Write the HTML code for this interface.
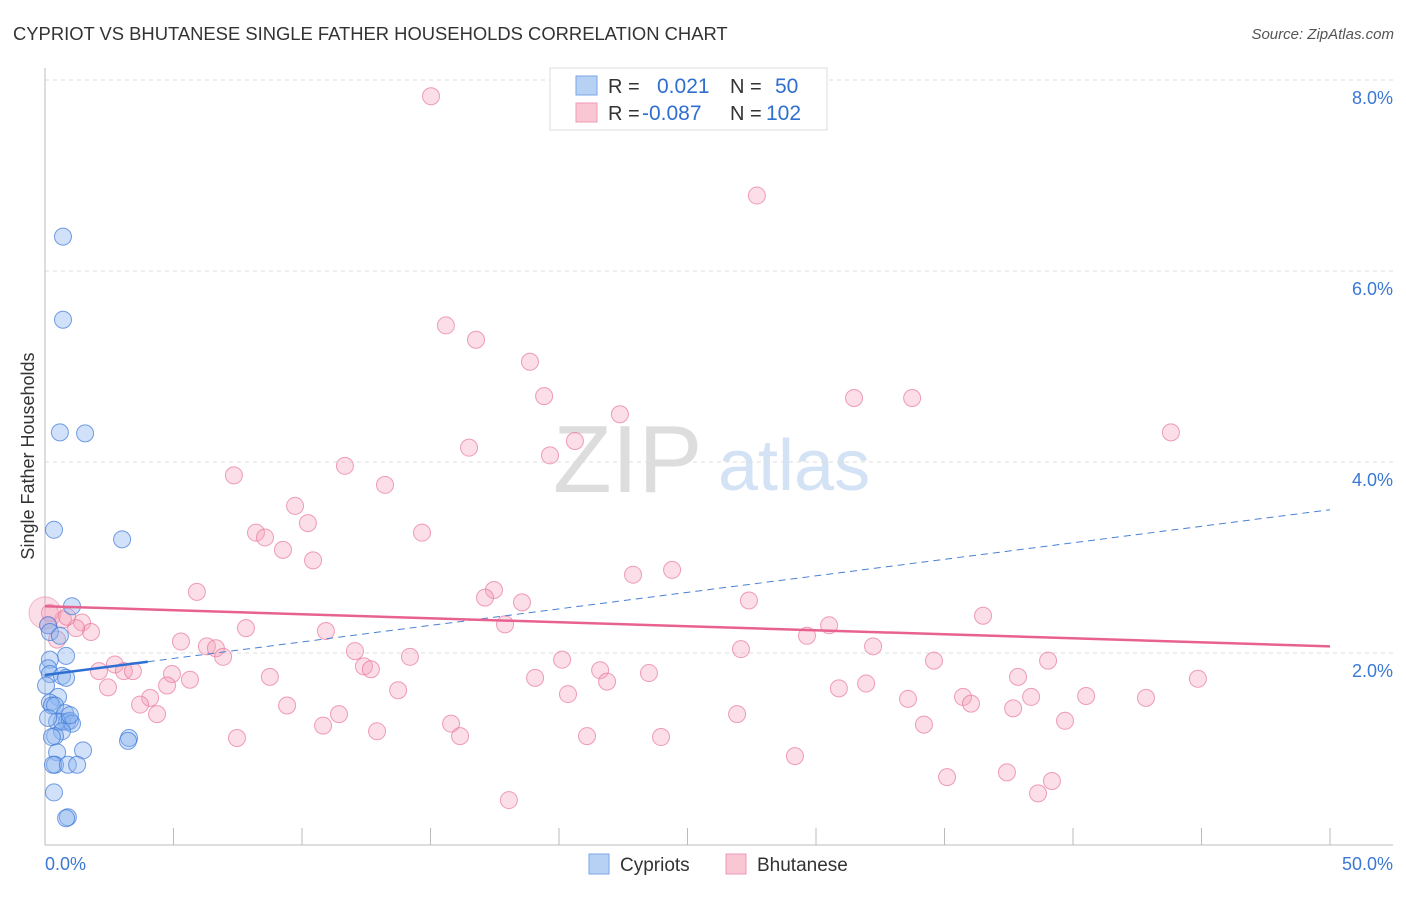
<!DOCTYPE html>
<html><head><meta charset="utf-8"><style>
body{margin:0;background:#fff;font-family:"Liberation Sans",sans-serif;}
svg text{font-family:"Liberation Sans",sans-serif;}
</style></head><body>
<svg id="chart" width="1406" height="892" viewBox="0 0 1406 892" xmlns="http://www.w3.org/2000/svg">
<text x="13" y="40" font-size="18.4" fill="#333">CYPRIOT VS BHUTANESE SINGLE FATHER HOUSEHOLDS CORRELATION CHART</text>
<text x="1394" y="39" font-size="15" fill="#555" font-style="italic" text-anchor="end">Source: ZipAtlas.com</text>
<text x="553" y="492" font-size="96" fill="#ddd" font-family="Liberation Serif,serif">ZIP</text>
<text x="718" y="490" font-size="72" fill="#d3e2f5">atlas</text>
<text transform="translate(34,456) rotate(-90)" font-size="18" fill="#333" text-anchor="middle">Single Father Households</text>
<g id="grid"></g><g id="pts"></g><g id="lines"></g>
<g>
<rect x="550" y="68" width="277" height="62" fill="#fff" stroke="#ddd"/>
<rect x="576" y="76" width="21" height="19" fill="#b7d1f5" stroke="#7aa6e6"/>
<rect x="576" y="103" width="21" height="19" fill="#f9c6d4" stroke="#ee9ab3"/>
<text x="608" y="93" font-size="20" fill="#333">R =</text><text x="657" y="93" font-size="21" fill="#2f6fd0">0.021</text>
<text x="730" y="93" font-size="20" fill="#333">N =</text><text x="775" y="93" font-size="21" fill="#2f6fd0">50</text>
<text x="608" y="120" font-size="20" fill="#333">R =</text><text x="642" y="120" font-size="21" fill="#2f6fd0">-0.087</text>
<text x="730" y="120" font-size="20" fill="#333">N =</text><text x="766" y="120" font-size="21" fill="#2f6fd0">102</text>
</g>
<g>
<rect x="589" y="854" width="20" height="20" fill="#b7d1f5" stroke="#7aa6e6"/><text x="620" y="871" font-size="19" fill="#333">Cypriots</text>
<rect x="726" y="854" width="20" height="20" fill="#f9c6d4" stroke="#ee9ab3"/><text x="757" y="871" font-size="19" fill="#333">Bhutanese</text>
</g>
</svg>
<script>
const yTicks=[2,4,6,8];
const xTickLabels=["0.0%","50.0%"];
const cypX=[0.70,0.70,0.58,1.56,0.35,3.00,1.05,0.12,0.19,0.58,0.82,0.19,0.12,0.19,0.66,0.82,0.04,0.51,0.19,0.27,0.39,0.78,0.66,0.86,0.97,1.05,0.47,0.12,0.66,0.39,0.27,1.48,0.47,3.27,3.23,0.39,0.31,0.89,1.25,0.35,0.89,0.82,0.97];
const cypY=[6.36,5.49,4.31,4.30,3.29,3.19,2.49,2.29,2.22,2.18,1.97,1.93,1.84,1.78,1.76,1.74,1.66,1.54,1.48,1.45,1.45,1.37,1.28,1.28,1.29,1.26,1.28,1.32,1.18,1.13,1.12,0.98,0.96,1.11,1.08,0.83,0.83,0.83,0.83,0.54,0.28,0.27,1.35];
const bhuX=[15.02,27.70,15.60,16.77,18.87,19.42,31.48,33.74,22.37,20.62,16.50,19.65,43.81,7.35,11.67,13.23,9.73,10.23,8.21,8.56,14.67,9.26,10.43,22.88,24.40,17.47,17.12,18.56,27.39,5.91,36.50,17.90,30.51,29.65,32.22,5.29,7.82,10.93,6.30,6.65,6.93,12.06,14.20,27.08,20.12,34.59,39.03,2.10,2.72,3.07,3.42,4.94,5.64,4.75,2.45,4.09,3.70,4.36,8.75,12.41,12.68,19.07,21.60,21.87,23.50,13.74,20.35,30.89,31.95,37.86,44.86,9.42,33.58,35.72,36.03,38.37,40.51,42.84,37.67,26.93,11.44,10.82,15.80,16.15,12.92,34.20,39.69,7.47,21.09,23.97,29.18,35.10,37.43,39.18,38.64,18.05,1.44,1.79,0.70,1.21,0.86,0.19,0.12,0.47];
const bhuY=[7.83,6.79,5.43,5.28,5.05,4.69,4.67,4.67,4.50,4.22,4.15,4.07,4.31,3.86,3.96,3.76,3.54,3.36,3.26,3.21,3.26,3.08,2.97,2.82,2.87,2.66,2.58,2.53,2.55,2.64,2.39,2.30,2.29,2.18,2.07,2.12,2.26,2.23,2.07,2.05,1.96,2.02,1.96,2.04,1.93,1.92,1.92,1.81,1.88,1.81,1.81,1.78,1.72,1.66,1.64,1.53,1.46,1.36,1.75,1.86,1.83,1.74,1.82,1.70,1.79,1.61,1.57,1.63,1.68,1.75,1.73,1.45,1.52,1.54,1.47,1.54,1.55,1.53,1.42,1.36,1.36,1.24,1.26,1.13,1.18,1.25,1.29,1.11,1.13,1.12,0.92,0.70,0.75,0.66,0.53,0.46,2.32,2.22,2.35,2.26,2.38,2.42,2.29,2.14];
const cypTrend=[1.77,3.50];
const bhuTrend=[2.49,2.07];
const NS="http://www.w3.org/2000/svg";
const X=v=>45+v*25.7, Y=v=>844-v*95.5;
function mk(tag,parent,attrs){const e=document.createElementNS(NS,tag);for(const k in attrs)e.setAttribute(k,attrs[k]);parent.appendChild(e);return e;}
const grid=document.getElementById('grid');
yTicks.forEach(t=>{
 const l=mk('line',grid,{x1:45,x2:1393,y1:Y(t),y2:Y(t),stroke:'#ddd','stroke-dasharray':'4,4'});
 
 
 const tx=mk('text',grid,{x:1393,y:Y(t)+24,'font-size':18,fill:'#3a78d4','text-anchor':'end'});
 tx.textContent=t.toFixed(1)+'%';
 
 
});
const ax=mk('line',grid,{x1:45,x2:45,y1:68,y2:845,stroke:'#bbb'});


const bx=mk('line',grid,{x1:45,x2:1393,y1:845,y2:845,stroke:'#bbb'});


for(let i=0;i<=10;i++){
 const tk=mk('line',grid,{x1:X(i*5),x2:X(i*5),y1:828,y2:845,stroke:'#bbb'});
 
 
}
[[0,'start'],[50,'end']].forEach((p,i)=>{
 const tx=mk('text',grid,{x:i?1393:45,y:870,'font-size':18,fill:'#3a78d4','text-anchor':p[1]});
 tx.textContent=xTickLabels[i];
 
 
});
const pts=document.getElementById('pts');
bhuX.forEach((v,i)=>{
 const c=mk('circle',pts,{cx:X(v),cy:Y(bhuY[i]),r:8.5,fill:'rgba(244,160,185,0.35)',stroke:'rgba(232,120,155,0.7)','stroke-width':1});
 
 
});
const big=mk('circle',pts,{cx:45,cy:Y(2.42),r:16,fill:'rgba(244,160,185,0.35)',stroke:'rgba(232,120,155,0.5)'});


cypX.forEach((v,i)=>{
 const c=mk('circle',pts,{cx:X(v),cy:Y(cypY[i]),r:8.5,fill:'rgba(140,180,240,0.4)',stroke:'rgba(60,120,215,0.7)','stroke-width':1});
 
 
});
const lines=document.getElementById('lines');
const cyAt=x=>cypTrend[0]+(cypTrend[1]-cypTrend[0])*x/50;
const l1=mk('line',lines,{x1:X(0),y1:Y(cyAt(0)),x2:X(4),y2:Y(cyAt(4)),stroke:'#2e6fd4','stroke-width':2.5});


const l2=mk('line',lines,{x1:X(4),y1:Y(cyAt(4)),x2:X(50),y2:Y(cyAt(50)),stroke:'#4a80d4','stroke-width':1,'stroke-dasharray':'7,5'});


const l3=mk('line',lines,{x1:X(0),y1:Y(bhuTrend[0]),x2:X(50),y2:Y(bhuTrend[1]),stroke:'#e8628f','stroke-width':2.5});


</script>
</body></html>
